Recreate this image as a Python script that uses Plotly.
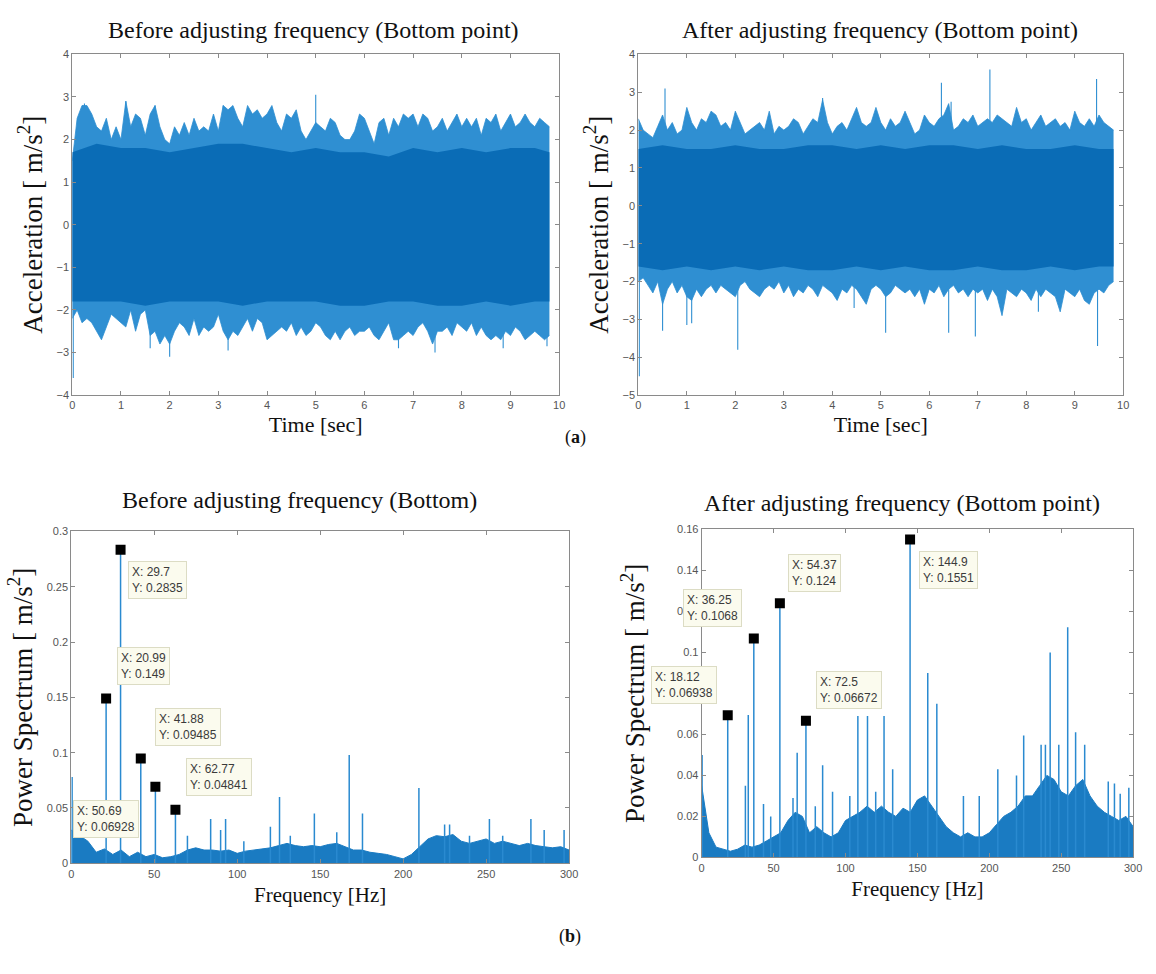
import plotly.graph_objects as go

W, H = 1156, 974

# ---------------- time signals (envelopes, 0.1 s steps) ----------------
t_env = [round(i * 0.1, 1) for i in range(99)]
t_core = [round(i * 0.5, 1) for i in range(20)] + [9.8]

before_up = [1.5, 2.5, 2.8, 2.8, 2.6, 2.3, 2.2, 2.5, 2.0, 2.3, 2.0, 2.9, 2.3, 2.6, 2.5, 2.1, 2.6, 2.8, 2.3, 2.0,
             1.9, 2.3, 2.1, 2.4, 2.1, 2.5, 2.2, 2.3, 2.2, 2.6, 2.2, 2.8, 2.7, 2.8, 2.5, 2.3, 2.8, 2.6, 2.7, 2.5,
             2.6, 2.8, 2.4, 2.2, 2.6, 2.5, 2.7, 2.2, 2.0, 2.2, 2.4, 2.3, 2.2, 2.5, 2.4, 2.1, 2.0, 2.0, 2.2, 2.6,
             2.5, 2.2, 1.9, 2.4, 2.5, 2.1, 2.5, 2.3, 2.6, 2.5, 2.6, 2.3, 2.6, 2.5, 2.2, 2.3, 2.5, 2.2, 2.4, 2.6,
             2.3, 2.5, 2.3, 2.5, 2.1, 2.5, 2.4, 2.6, 2.2, 2.4, 2.6, 2.3, 2.4, 2.6, 2.4, 2.3, 2.5, 2.4, 2.3]
before_lo = [-2.2, -2.0, -2.3, -2.2, -2.3, -2.5, -2.7, -2.4, -2.1, -2.2, -2.3, -2.4, -2.0, -2.5, -2.1, -2.0, -2.6, -2.5, -2.8, -2.6,
             -2.8, -2.5, -2.3, -2.4, -2.6, -2.2, -2.6, -2.4, -2.5, -2.4, -2.1, -2.5, -2.7, -2.5, -2.6, -2.4, -2.2, -2.5, -2.2, -2.3,
             -2.7, -2.6, -2.5, -2.4, -2.5, -2.3, -2.6, -2.4, -2.6, -2.5, -2.3, -2.4, -2.6, -2.7, -2.5, -2.7, -2.5, -2.4, -2.6, -2.5,
             -2.5, -2.4, -2.6, -2.7, -2.5, -2.3, -2.7, -2.7, -2.6, -2.5, -2.6, -2.4, -2.3, -2.5, -2.8, -2.5, -2.5, -2.4, -2.6, -2.3,
             -2.4, -2.5, -2.3, -2.6, -2.4, -2.6, -2.7, -2.6, -2.7, -2.5, -2.6, -2.4, -2.5, -2.7, -2.6, -2.5, -2.6, -2.7, -2.6]
before_core_up = [1.7, 1.9, 1.8, 1.8, 1.7, 1.8, 1.9, 1.9, 1.8, 1.7, 1.8, 1.7, 1.7, 1.6, 1.8, 1.7, 1.8, 1.7, 1.8, 1.8, 1.7]
before_core_lo = [-1.8, -1.8, -1.8, -1.9, -1.8, -1.8, -1.8, -1.9, -1.8, -1.8, -1.8, -1.9, -1.9, -1.8, -1.8, -1.9, -1.9, -1.8, -1.9, -1.8, -1.8]
before_spike_t = [0.02, 0.25, 1.1, 1.7, 3.1, 5.0, 2.0, 1.6, 3.2, 7.45, 6.7, 8.85, 9.75]
before_spike_v = [-3.6, 2.85, 2.9, 2.8, 2.8, 3.05, -3.1, -2.9, -2.95, -3.0, -2.9, -2.9, -2.85]

after_up = [2.3, 2.0, 1.9, 1.8, 2.1, 2.4, 2.0, 2.2, 1.9, 2.0, 2.6, 2.2, 2.0, 2.3, 2.2, 2.5, 2.4, 2.1, 2.2, 2.0,
            2.5, 2.2, 1.9, 2.0, 2.1, 2.2, 2.0, 2.5, 1.9, 2.1, 2.0, 2.1, 2.3, 2.2, 1.9, 2.1, 2.3, 2.2, 2.8, 2.2,
            1.9, 2.1, 2.2, 2.0, 2.3, 2.6, 2.2, 2.1, 2.2, 2.6, 2.2, 2.0, 2.3, 2.1, 2.2, 2.5, 2.2, 1.9, 2.0, 2.4,
            2.2, 2.1, 2.3, 2.4, 2.7, 2.0, 2.1, 2.3, 2.2, 2.4, 2.1, 2.2, 2.3, 2.2, 2.4, 2.3, 2.2, 2.1, 2.6, 2.2,
            2.3, 2.0, 2.2, 2.4, 2.1, 2.2, 2.3, 2.1, 2.2, 2.0, 2.5, 2.2, 2.1, 2.3, 2.1, 2.4, 2.2, 2.1, 2.0]
after_lo = [-2.0, -1.9, -2.1, -2.3, -2.0, -2.6, -2.2, -2.0, -2.3, -2.1, -2.4, -2.5, -2.2, -2.4, -2.2, -2.1, -2.3, -2.1, -2.2, -2.3,
            -2.4, -2.1, -2.0, -2.2, -2.3, -2.4, -2.2, -2.1, -2.2, -2.0, -2.3, -2.1, -2.4, -2.2, -2.3, -2.1, -2.2, -2.4, -2.1, -2.2,
            -2.3, -2.5, -2.2, -2.3, -2.1, -2.2, -2.4, -2.6, -2.2, -2.1, -2.2, -2.4, -2.3, -2.1, -2.2, -2.3, -2.2, -2.4, -2.2, -2.6,
            -2.2, -2.3, -2.1, -2.4, -2.2, -2.1, -2.3, -2.2, -2.4, -2.2, -2.3, -2.2, -2.5, -2.2, -2.4, -2.9, -2.2, -2.3, -2.4, -2.2,
            -2.3, -2.5, -2.2, -2.4, -2.2, -2.3, -2.4, -2.8, -2.2, -2.3, -2.4, -2.2, -2.5, -2.6, -2.3, -2.2, -2.3, -2.1, -2.0]
after_core_up = [1.5, 1.6, 1.5, 1.5, 1.6, 1.5, 1.5, 1.6, 1.6, 1.5, 1.6, 1.5, 1.6, 1.6, 1.5, 1.6, 1.5, 1.5, 1.6, 1.5, 1.5]
after_core_lo = [-1.6, -1.7, -1.6, -1.7, -1.6, -1.7, -1.6, -1.7, -1.7, -1.6, -1.7, -1.6, -1.7, -1.7, -1.6, -1.7, -1.7, -1.6, -1.7, -1.6, -1.6]
after_spike_t = [0.02, 0.55, 3.8, 6.25, 6.45, 7.25, 9.45, 0.5, 1.0, 1.1, 2.05, 5.1, 6.4, 6.95, 9.47, 4.45, 8.25]
after_spike_v = [-4.5, 3.1, 2.85, 3.25, 2.75, 3.6, 3.35, -3.3, -3.15, -3.1, -3.8, -3.35, -3.35, -3.45, -3.7, -2.7, -2.8]

# ---------------- spectra ----------------
f_floor = list(range(0, 301, 5))
before_floor = [0.03, 0.025, 0.02, 0.01, 0.013, 0.008, 0.012, 0.006, 0.01, 0.006, 0.008, 0.005, 0.006, 0.008, 0.012, 0.014,
                0.012, 0.012, 0.011, 0.012, 0.009, 0.011, 0.012, 0.013, 0.014, 0.016, 0.018, 0.016, 0.015, 0.016, 0.015,
                0.017, 0.018, 0.015, 0.012, 0.012, 0.01, 0.009, 0.008, 0.006, 0.004, 0.008, 0.015, 0.022, 0.025, 0.024,
                0.026, 0.02, 0.018, 0.02, 0.022, 0.018, 0.02, 0.018, 0.016, 0.018, 0.016, 0.015, 0.014, 0.015, 0.012]
before_peak_f = [0.5, 20.99, 29.7, 41.88, 50.69, 62.77, 70, 84, 90, 93, 104, 120, 125.5, 132, 146.5, 160, 167.5, 175.5,
                 209.5, 225, 228, 240, 252, 260, 277, 285, 297]
before_peak_a = [0.078, 0.149, 0.2835, 0.09485, 0.06928, 0.04841, 0.025, 0.04, 0.03, 0.04, 0.02, 0.033, 0.06, 0.025, 0.045,
                 0.028, 0.098, 0.045, 0.068, 0.035, 0.035, 0.025, 0.04, 0.025, 0.04, 0.03, 0.03]

after_floor = [0.035, 0.012, 0.005, 0.004, 0.003, 0.004, 0.006, 0.005, 0.006, 0.008, 0.01, 0.012, 0.018, 0.022, 0.02, 0.012,
               0.015, 0.012, 0.01, 0.012, 0.018, 0.02, 0.022, 0.025, 0.022, 0.025, 0.022, 0.02, 0.024, 0.022, 0.028, 0.03,
               0.025, 0.02, 0.015, 0.012, 0.01, 0.012, 0.01, 0.01, 0.012, 0.016, 0.02, 0.022, 0.025, 0.03, 0.03, 0.035,
               0.04, 0.038, 0.032, 0.03, 0.035, 0.038, 0.03, 0.025, 0.022, 0.02, 0.018, 0.02, 0.015]
after_peak_f = [0.3, 18.12, 30.4, 32.4, 36.25, 43, 48, 54.37, 63.5, 66.4, 72.5, 79, 84.1, 91, 103, 108.6, 115.3, 121, 126.8,
                132.8, 144.9, 157.2, 163.5, 182, 193, 205.9, 218.9, 223.9, 236, 239, 242.3, 248.3, 254.5, 260, 266.3,
                282.7, 287, 291, 297]
after_peak_a = [0.05, 0.06938, 0.035, 0.0695, 0.1068, 0.026, 0.02, 0.124, 0.029, 0.051, 0.06672, 0.025, 0.045, 0.032, 0.03,
                0.069, 0.069, 0.032, 0.069, 0.043, 0.1551, 0.09, 0.075, 0.03, 0.03, 0.043, 0.04, 0.0595, 0.055, 0.055,
                0.1, 0.055, 0.1123, 0.061, 0.055, 0.037, 0.036, 0.031, 0.034]

# data tips: (x, y, label x, label y, box offset dx, dy in px)
before_tips = [(29.7, 0.2835, "29.7", "0.2835", 37, 30),
               (20.99, 0.149, "20.99", "0.149", 37, -32),
               (41.88, 0.09485, "41.88", "0.09485", 47, -31),
               (50.69, 0.06928, "50.69", "0.06928", -49, 32),
               (62.77, 0.04841, "62.77", "0.04841", 44, -33)]
after_tips = [(144.9, 0.1551, "144.9", "0.1551", 38, 30),
              (54.37, 0.124, "54.37", "0.124", 35, -30),
              (36.25, 0.1068, "36.25", "0.1068", -41, -31),
              (18.12, 0.06938, "18.12", "0.06938", -44, -30),
              (72.5, 0.06672, "72.5", "0.06672", 43, -31)]

CORE = "#0a6cb6"
FRINGE = "#2f8fd2"
LINE = "#2a8ad0"
FLOOR = "#1a7bc2"

fig = go.Figure()


def band(x, lo, up, color, xa, ya, width=0.0):
    fig.add_trace(go.Scatter(x=x, y=lo, mode="lines", line=dict(color=color, width=width),
                             xaxis=xa, yaxis=ya, showlegend=False, hoverinfo="skip"))
    fig.add_trace(go.Scatter(x=x, y=up, mode="lines", line=dict(color=color, width=width), fill="tonexty",
                             fillcolor=color, xaxis=xa, yaxis=ya, showlegend=False, hoverinfo="skip"))


def sticks(xs, vs, color, xa, ya, width=1.2, base=0.0):
    X, Y = [], []
    for x, v in zip(xs, vs):
        X += [x, x, None]
        Y += [base, v, None]
    fig.add_trace(go.Scatter(x=X, y=Y, mode="lines", line=dict(color=color, width=width),
                             xaxis=xa, yaxis=ya, showlegend=False, hoverinfo="skip", connectgaps=False))


# top-left
sticks(before_spike_t, before_spike_v, FRINGE, "x", "y", 1.1)
band(t_env, before_lo, before_up, FRINGE, "x", "y", 0.8)
band(t_core, before_core_lo, before_core_up, CORE, "x", "y")
# top-right
sticks(after_spike_t, after_spike_v, FRINGE, "x2", "y2", 1.1)
band(t_env, after_lo, after_up, FRINGE, "x2", "y2", 0.8)
band(t_core, after_core_lo, after_core_up, CORE, "x2", "y2")

# spectra: noise floor + discrete peaks
for floor, pf, pa, xa, ya in [(before_floor, before_peak_f, before_peak_a, "x3", "y3"),
                              (after_floor, after_peak_f, after_peak_a, "x4", "y4")]:
    fig.add_trace(go.Scatter(x=f_floor, y=floor, mode="lines", line=dict(color=FLOOR, width=1),
                             fill="tozeroy", fillcolor=FLOOR, xaxis=xa, yaxis=ya,
                             showlegend=False, hoverinfo="skip"))
    sticks(pf, pa, LINE, xa, ya, 1.5)

annotations = []
for tips, xa, ya in [(before_tips, "x3", "y3"), (after_tips, "x4", "y4")]:
    fig.add_trace(go.Scatter(x=[t[0] for t in tips], y=[t[1] for t in tips], mode="markers",
                             marker=dict(symbol="square", size=10, color="black"),
                             xaxis=xa, yaxis=ya, showlegend=False, hoverinfo="skip"))
    for (x, y, lx, ly, dx, dy) in tips:
        annotations.append(dict(x=x, y=y, xref=xa, yref=ya, ax=dx, ay=dy, axref="pixel", ayref="pixel",
                                showarrow=True, arrowcolor="rgba(0,0,0,0)", arrowwidth=0.1, arrowhead=0,
                                text=f"X: {lx}<br>Y: {ly}", align="left",
                                font=dict(family="Liberation Sans, Arial", size=12, color="#3a3a3a"),
                                bgcolor="#fbfbee", bordercolor="#dcdcc4", borderwidth=1, borderpad=3))


def px_x(p):
    return p / W


def px_y(p):
    return 1 - p / H


SERIF = "Liberation Serif, Times New Roman, serif"
TICKFONT = dict(family="Liberation Sans, Arial", size=11, color="#555555")
YFONT = dict(family=SERIF, size=27, color="#111111")
XFONT = dict(family=SERIF, size=22, color="#111111")
ax_common = dict(showgrid=False, zeroline=False, showline=True, linecolor="#8a8a8a", linewidth=1, mirror="ticks",
                 ticks="inside", ticklen=4, tickcolor="#8a8a8a", tickfont=TICKFONT)

fig.update_layout(
    width=W, height=H, margin=dict(l=0, r=0, t=0, b=0),
    paper_bgcolor="white", plot_bgcolor="white", showlegend=False,
    xaxis=dict(domain=[px_x(70), px_x(562)], range=[0, 10], dtick=1, anchor="y",
               title=dict(text="Time [sec]", font=XFONT, standoff=6), **ax_common),
    yaxis=dict(domain=[px_y(394), px_y(49)], range=[-4, 4], dtick=1, anchor="x",
               title=dict(text="Acceleration [ m/s<sup>2</sup>]", font=YFONT, standoff=6), **ax_common),
    xaxis2=dict(domain=[px_x(642), px_x(1132)], range=[0, 10], dtick=1, anchor="y2",
                title=dict(text="Time [sec]", font=XFONT, standoff=6), **ax_common),
    yaxis2=dict(domain=[px_y(394), px_y(49)], range=[-5, 4], dtick=1, anchor="x2",
                title=dict(text="Acceleration [ m/s<sup>2</sup>]", font=YFONT, standoff=6), **ax_common),
    xaxis3=dict(domain=[px_x(69), px_x(572)], range=[0, 300], dtick=50, anchor="y3",
                title=dict(text="Frequency [Hz]", font=dict(XFONT, size=21), standoff=8), **ax_common),
    yaxis3=dict(domain=[px_y(868), px_y(532)], range=[0, 0.3], dtick=0.05, anchor="x3",
                title=dict(text="Power Spectrum [ m/s<sup>2</sup>]", font=YFONT, standoff=6),
                **ax_common),
    xaxis4=dict(domain=[px_x(706), px_x(1142)], range=[0, 300], dtick=50, anchor="y4",
                title=dict(text="Frequency [Hz]", font=dict(XFONT, size=21), standoff=8), **ax_common),
    yaxis4=dict(domain=[px_y(862), px_y(530)], range=[0, 0.16], dtick=0.02, anchor="x4",
                title=dict(text="Power Spectrum [ m/s<sup>2</sup>]", font=YFONT, standoff=24),
                **ax_common),
)

SUBT = dict(family="Liberation Serif, Palatino, serif", size=24, color="#111111")
for text, xc, yc in [("Before adjusting frequency (Bottom point)", 314, 24),
                     ("After adjusting frequency (Bottom point)", 886, 24),
                     ("Before adjusting frequency (Bottom)", 300, 500),
                     ("After adjusting frequency (Bottom point)", 908, 503)]:
    annotations.append(dict(x=px_x(xc), y=px_y(yc), xref="paper", yref="paper", text=text, showarrow=False,
                            xanchor="center", yanchor="middle", font=SUBT))
for text, xc, yc in [("(<b>a</b>)", 578, 437), ("(<b>b</b>)", 573, 942)]:
    annotations.append(dict(x=px_x(xc), y=px_y(yc), xref="paper", yref="paper", text=text, showarrow=False,
                            xanchor="center", yanchor="middle",
                            font=dict(family=SERIF, size=18, color="#111111")))

fig.update_layout(annotations=annotations)
fig.write_html("out.html")
